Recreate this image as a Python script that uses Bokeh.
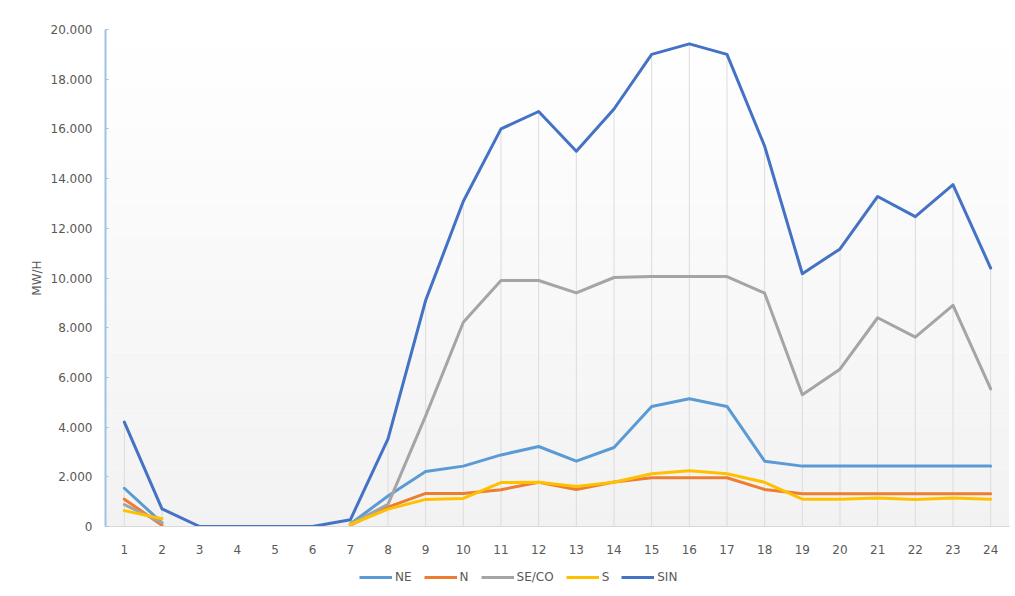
import numpy as np
from bokeh.plotting import figure
from bokeh.layouts import column
from bokeh.models import FixedTicker, BoxAnnotation, Legend, LegendItem, Range1d
from bokeh.embed import file_html
from bokeh.resources import INLINE

nan = float("nan")
hours = list(range(1, 25))
NE = [1540, 150, nan, nan, nan, nan, 100, 1230, 2210, 2430, 2880, 3220, 2630, 3180,
      4830, 5140, 4830, 2630, 2430, 2430, 2430, 2430, 2430, 2430]
N = [1100, 50, nan, nan, nan, nan, 50, 780, 1330, 1330, 1480, 1780, 1490, 1790,
     1960, 1960, 1960, 1490, 1320, 1320, 1320, 1320, 1320, 1320]
SE_CO = [880, 150, nan, nan, nan, nan, 100, 890, 4450, 8220, 9900, 9900, 9400, 10020,
         10060, 10060, 10060, 9390, 5300, 6330, 8400, 7620, 8900, 5540]
S = [640, 310, nan, nan, nan, nan, 80, 700, 1090, 1130, 1770, 1780, 1610, 1780,
     2120, 2240, 2120, 1780, 1100, 1100, 1150, 1090, 1150, 1100]
SIN = [4200, 710, 0, 0, 0, 0, 270, 3530, 9100, 13090, 16000, 16700, 15100, 16800,
       19000, 19420, 19000, 15300, 10170, 11170, 13280, 12470, 13760, 10400]

series_names = ["NE", "N", "SE/CO", "S", "SIN"]
series_data = [NE, N, SE_CO, S, SIN]
series_colors = ["#5B9BD5", "#ED7D31", "#A5A5A5", "#FFC000", "#4472C4"]

y_ticks = [0, 2000, 4000, 6000, 8000, 10000, 12000, 14000, 16000, 18000, 20000]
y_tick_labels = ["0", "2.000", "4.000", "6.000", "8.000", "10.000", "12.000",
                 "14.000", "16.000", "18.000", "20.000"]
y_title = "MW/H"

FONT = "DejaVu Sans"
TXT = "#595959"
W = 1013

p = figure(width=W, height=560, output_backend="svg", toolbar_location=None,
           x_range=Range1d(0.5, 24.5), y_range=Range1d(0, 20000),
           min_border_left=105, min_border_right=4, min_border_top=29,
           min_border_bottom=34)
p.background_fill_color = "white"
p.border_fill_color = "white"
p.outline_line_color = None
p.xgrid.visible = False
p.ygrid.visible = False

# gradient background (white at top -> light gray at bottom)
nb = 60
edges = np.linspace(0, 20000, nb + 1)
for i in range(nb):
    t = 1 - (i + 0.5) / nb  # 1 at bottom, 0 at top
    c = int(round(255 - 13 * t))
    p.add_layout(BoxAnnotation(bottom=edges[i], top=edges[i + 1],
                               fill_color=f"#{c:02x}{c:02x}{c:02x}", fill_alpha=1,
                               line_color=None, level="underlay"))

# drop lines
p.segment(x0=hours, y0=[0] * len(hours), x1=hours, y1=SIN,
          line_color="#dcdcdc", line_width=1)

for name, data, col in zip(series_names, series_data, series_colors):
    p.line(hours, data, line_color=col, line_width=3,
           line_join="round", line_cap="round")

# axes
p.xaxis.ticker = FixedTicker(ticks=hours)
p.xaxis.axis_line_color = "#d9d9d9"
p.xaxis.major_tick_line_color = None
p.xaxis.minor_tick_line_color = None
p.xaxis.major_label_text_font = FONT
p.xaxis.major_label_text_font_size = "12px"
p.xaxis.major_label_text_color = TXT
p.xaxis.major_label_standoff = 12

p.yaxis.ticker = FixedTicker(ticks=y_ticks)
p.yaxis.major_label_overrides = {t: l for t, l in zip(y_ticks, y_tick_labels)}
p.yaxis.axis_line_color = "#9DC3E6"
p.yaxis.axis_line_width = 2
p.yaxis.major_tick_line_color = "#9DC3E6"
p.yaxis.major_tick_in = 3
p.yaxis.major_tick_out = 0
p.yaxis.minor_tick_line_color = None
p.yaxis.major_label_text_font = FONT
p.yaxis.major_label_text_font_size = "12px"
p.yaxis.major_label_text_color = TXT
p.yaxis.major_label_standoff = 13
p.yaxis.axis_label = y_title
p.yaxis.axis_label_text_font = FONT
p.yaxis.axis_label_text_font_size = "12px"
p.yaxis.axis_label_text_font_style = "normal"
p.yaxis.axis_label_text_color = TXT
p.yaxis.axis_label_standoff = 4

# legend strip (separate figure so the legend is not clipped by the plot frame)
pl = figure(width=W, height=34, output_backend="svg", toolbar_location=None,
            x_range=Range1d(0, 1), y_range=Range1d(0, 1),
            min_border_left=0, min_border_right=0, min_border_top=0,
            min_border_bottom=0)
pl.axis.visible = False
pl.xgrid.visible = False
pl.ygrid.visible = False
pl.outline_line_color = None
pl.background_fill_color = "white"
pl.border_fill_color = "white"
items = []
for name, col in zip(series_names, series_colors):
    # placeholder renderer outside the visible range; only its legend swatch shows
    r = pl.line(x=[5, 6], y=[5, 6], line_color=col, line_width=3)
    items.append(LegendItem(label=name, renderers=[r]))
legend = Legend(items=items, orientation="horizontal", location=(254, 7),
                label_text_font=FONT, label_text_font_size="12px",
                label_text_color=TXT, glyph_width=33, glyph_height=20,
                label_height=20, label_width=0, label_standoff=3, spacing=12,
                padding=0, margin=0, border_line_color=None,
                background_fill_alpha=0)
pl.add_layout(legend, "center")

layout = column(p, pl, spacing=0)
open("out.html", "w").write(file_html(layout, INLINE))
